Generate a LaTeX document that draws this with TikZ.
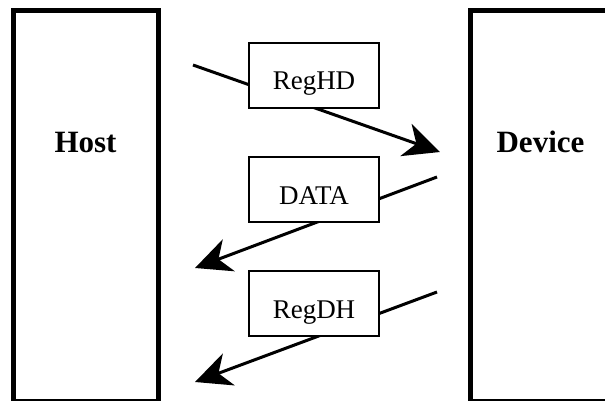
\documentclass[tikz,border=0pt]{standalone}
\usepackage{fontspec}
\setmainfont{Liberation Serif}
\usetikzlibrary{arrows.meta}
\begin{document}
\begin{tikzpicture}[x=1pt,y=-1pt,
  endbox/.style={draw, line width=5pt, inner sep=0pt, fill=white},
  endtext/.style={anchor=base, inner sep=0pt, font=\fontsize{31}{36}\selectfont\bfseries},
  msgbox/.style={draw, line width=1.5pt, fill=white, inner sep=0pt,
    minimum width=130pt, minimum height=65pt, text height=29pt, text depth=0pt,
    font=\fontsize{27}{32}\selectfont},
  msg/.style={line width=3pt, -{Stealth[length=36pt,width=34pt,inset=11pt]}}]
\useasboundingbox (0,0) rectangle (605,401);
\clip (0,0) rectangle (605,401);
\node[endbox, minimum width=144.5pt, minimum height=390.5pt] (host) at (85.75,205.75) {};
\node[endbox, minimum width=141pt, minimum height=390.5pt] (device) at (540.5,205.75) {};
\node[endtext] (hosttext) at (85.5,153) {Host};
\node[endtext] (devicetext) at (540.5,153) {Device};
\coordinate (h1) at (193,65);
\coordinate (d1) at (440,152);
\coordinate (d2) at (437,177);
\coordinate (h2) at (195,268);
\coordinate (d3) at (437,292);
\coordinate (h3) at (195,382);
\draw[msg] (h1) -- (d1);
\draw[msg] (d2) -- (h2);
\draw[msg] (d3) -- (h3);
\node[msgbox] (reghd) at (314,75.5) {RegHD};
\node[msgbox] (data) at (314,189.5) {DATA};
\node[msgbox] (regdh) at (314,303.5) {RegDH};
\end{tikzpicture}
\end{document}
